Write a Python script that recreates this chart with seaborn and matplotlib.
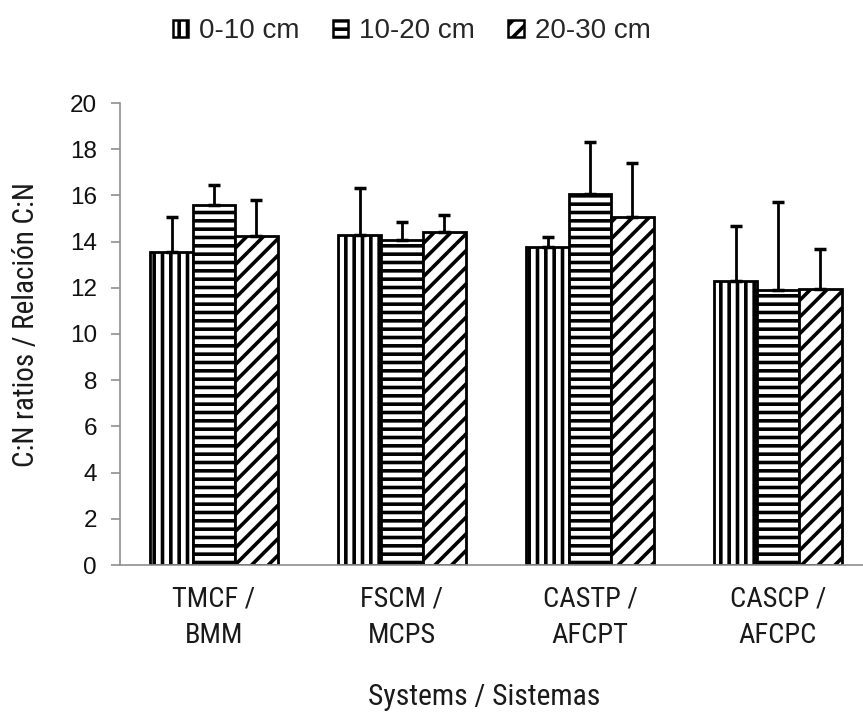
import matplotlib
matplotlib.use("Agg")
import matplotlib.pyplot as plt
from matplotlib.patches import Patch
import seaborn as sns
import pandas as pd
import numpy as np
import logging
logging.getLogger("matplotlib.font_manager").setLevel(logging.ERROR)

systems = ["TMCF /\nBMM", "FSCM /\nMCPS", "CASTP /\nAFCPT", "CASCP /\nAFCPC"]
depths = ["0-10 cm", "10-20 cm", "20-30 cm"]
mean_0_10 = [13.55, 14.30, 13.75, 12.30]
mean_10_20 = [15.57, 14.08, 16.07, 11.92]
mean_20_30 = [14.25, 14.41, 15.07, 11.96]
err_0_10 = [1.51, 2.04, 0.43, 2.36]
err_10_20 = [0.86, 0.75, 2.25, 3.80]
err_20_30 = [1.53, 0.72, 2.34, 1.73]

means = [mean_0_10, mean_10_20, mean_20_30]
errs = [err_0_10, err_10_20, err_20_30]
df = pd.DataFrame({
    "system": [s for d in depths for s in systems],
    "depth": [d for d in depths for _ in systems],
    "value": [v for m in means for v in m],
})

sns.set_theme(style="white")
narrow = ["Roboto Condensed", "Liberation Sans Narrow", "Archivo Narrow",
          "PT Sans Narrow", "DejaVu Sans"]
plt.rcParams["font.family"] = ["Liberation Sans", "DejaVu Sans"]
plt.rcParams["hatch.linewidth"] = 2.6
plt.rcParams["hatch.color"] = "black"

fig = plt.figure(figsize=(8.63, 7.13), dpi=100)
ax = fig.add_axes([120 / 863, 1 - 565 / 713, 1 - 120 / 863, (565 - 103) / 713])

sns.barplot(data=df, x="system", y="value", hue="depth", order=systems,
            hue_order=depths, palette=["white"] * 3, edgecolor="black",
            linewidth=2, width=0.676, errorbar=None, ax=ax, legend=False)

hatches = ["||", "--", "//"]
bar_conts = list(ax.containers)
for cont, h, e in zip(bar_conts, hatches, errs):
    xs = []
    ys = []
    for bar in cont:
        bar.set_hatch(h)
        bar.set_facecolor("white")
        bar.set_edgecolor("black")
        xs.append(bar.get_x() + bar.get_width() / 2)
        ys.append(bar.get_height())
    ax.errorbar(xs, ys, yerr=[np.zeros(len(e)), e], fmt="none", ecolor="black",
                elinewidth=2, capsize=4.5, capthick=2.5, zorder=1)

ax.set_ylim(0, 20)
ax.set_yticks(range(0, 21, 2))
ax.set_xlim(-0.5, 3.452)
for s in ["top", "right"]:
    ax.spines[s].set_visible(False)
for s in ["left", "bottom"]:
    ax.spines[s].set_color("#8f8f8f")
    ax.spines[s].set_linewidth(1.2)
ax.tick_params(axis="y", length=6.5, width=1.2, color="#8f8f8f", labelsize=17.5,
               labelcolor="#111111", pad=10, left=True)
ax.tick_params(axis="x", length=0, pad=15)
for lab in ax.get_xticklabels():
    lab.set_family(narrow)
    lab.set_fontsize(20.5)
    lab.set_color("#1a1a1a")
    lab.set_linespacing(1.45)

ax.set_ylabel("C:N ratios / Relación C:N", family=narrow, fontsize=21, color="#1a1a1a")
ax.yaxis.set_label_coords(-0.108, 0.52)
ax.set_xlabel("Systems / Sistemas", family=narrow, fontsize=21.3, color="#1a1a1a")
ax.xaxis.set_label_coords(0.49, -0.255)

leg_handles = [Patch(facecolor="white", edgecolor="black", hatch=h, linewidth=1.8) for h in hatches]
fig.legend(leg_handles, depths, loc="center", bbox_to_anchor=(0.477, 1 - 31 / 713), ncol=3,
           frameon=False, fontsize=20, handlelength=0.55, handleheight=0.55,
           handletextpad=0.4, columnspacing=1.2)

fig.savefig("out.png", dpi=100)
